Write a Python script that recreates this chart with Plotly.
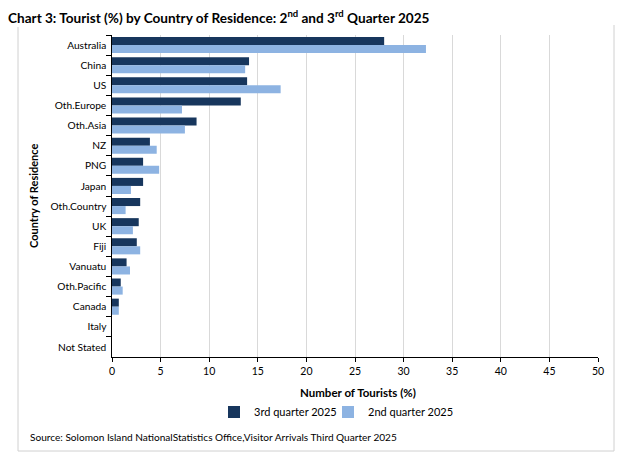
import plotly.graph_objects as go

countries = ["Australia", "China", "US", "Oth.Europe", "Oth.Asia", "NZ", "PNG", "Japan",
             "Oth.Country", "UK", "Fiji", "Vanuatu", "Oth.Pacific", "Canada", "Italy", "Not Stated"]
q3_2025 = [28.0, 14.1, 13.9, 13.25, 8.7, 3.9, 3.2, 3.2, 2.9, 2.75, 2.55, 1.5, 0.9, 0.7, 0.0, 0.0]
q2_2025 = [32.3, 13.7, 17.35, 7.2, 7.5, 4.6, 4.85, 1.95, 1.4, 2.15, 2.9, 1.85, 1.1, 0.7, 0.0, 0.0]
x_ticks = [0, 5, 10, 15, 20, 25, 30, 35, 40, 45, 50]

FONT = "Lato"
W, H = 635, 467
L, R, T, B = 112, 37, 35, 110
pw, ph = W - L - R, H - T - B

def px(x):
    return (x - L) / pw

def py(y):
    return (H - B - y) / ph

fig = go.Figure()
fig.add_trace(go.Bar(y=countries, x=q3_2025, orientation="h", name="3rd quarter 2025",
                     marker=dict(color="#17365D", line=dict(width=0)), legend="legend"))
fig.add_trace(go.Bar(y=countries, x=q2_2025, orientation="h", name="2nd quarter 2025",
                     marker=dict(color="#8DB3E2", line=dict(width=0)), legend="legend2"))

leg_common = dict(orientation="h", yanchor="middle", xanchor="left", font=dict(size=11),
                  bgcolor="rgba(0,0,0,0)", borderwidth=0, itemwidth=30)

fig.update_layout(
    width=W, height=H,
    margin=dict(l=L, r=R, t=T, b=B, autoexpand=False),
    paper_bgcolor="white", plot_bgcolor="white",
    barmode="group", bargap=0.2, bargroupgap=0.0,
    font=dict(family=FONT, size=10, color="#000000"),
    showlegend=True,
    legend=dict(x=px(214), y=py(412), **leg_common),
    legend2=dict(x=px(328), y=py(412), **leg_common),
    xaxis=dict(range=[0, 50], tickvals=x_ticks, showgrid=True, gridcolor="#D9D9D9", gridwidth=1,
               showline=True, linecolor="#000000", linewidth=1.2, ticks="outside", ticklen=4,
               tickcolor="#000000", zeroline=False, tickfont=dict(size=10.5), fixedrange=True),
    yaxis=dict(categoryorder="array", categoryarray=countries, autorange="reversed",
               showline=True, linecolor="#000000", linewidth=1.2, ticks="outside", ticklen=5,
               tickcolor="#000000", tickson="boundaries", showgrid=False,
               tickfont=dict(size=10.2), ticksuffix=" ", fixedrange=True),
)

annotations = [
    dict(text="<b>Chart 3: Tourist (%) by Country of Residence: 2<sup>nd</sup> and 3<sup>rd</sup> Quarter 2025</b>",
         x=px(6), y=py(17), xanchor="left", yanchor="middle", font=dict(size=13.6)),
    dict(text="<b>Number of Tourists (%)</b>", x=px(358), y=py(392), xanchor="center", yanchor="middle",
         font=dict(size=11.5)),
    dict(text="<b>Country of Residence</b>", x=px(33), y=py(196), xanchor="center", yanchor="middle",
         textangle=-90, font=dict(size=11)),
    dict(text="Source: Solomon Island NationalStatistics Office,Visitor Arrivals Third Quarter 2025",
         x=px(28), y=py(437), xanchor="left", yanchor="middle", font=dict(size=10.1)),
]
for a in annotations:
    a.update(xref="paper", yref="paper", showarrow=False)
fig.update_layout(annotations=annotations)

frame = dict(color="#D0D0D0", width=1)
fig.add_shape(type="line", xref="paper", yref="paper", x0=px(18), x1=px(18), y0=py(27), y1=py(451), line=frame)
fig.add_shape(type="line", xref="paper", yref="paper", x0=px(614), x1=px(614), y0=py(25), y1=py(451), line=frame)
fig.add_shape(type="line", xref="paper", yref="paper", x0=px(18), x1=px(614), y0=py(451), y1=py(451), line=frame)

fig.write_html("out.html", config={"displayModeBar": False},
               post_script="document.body.style.margin='0';document.body.style.padding='0';")
